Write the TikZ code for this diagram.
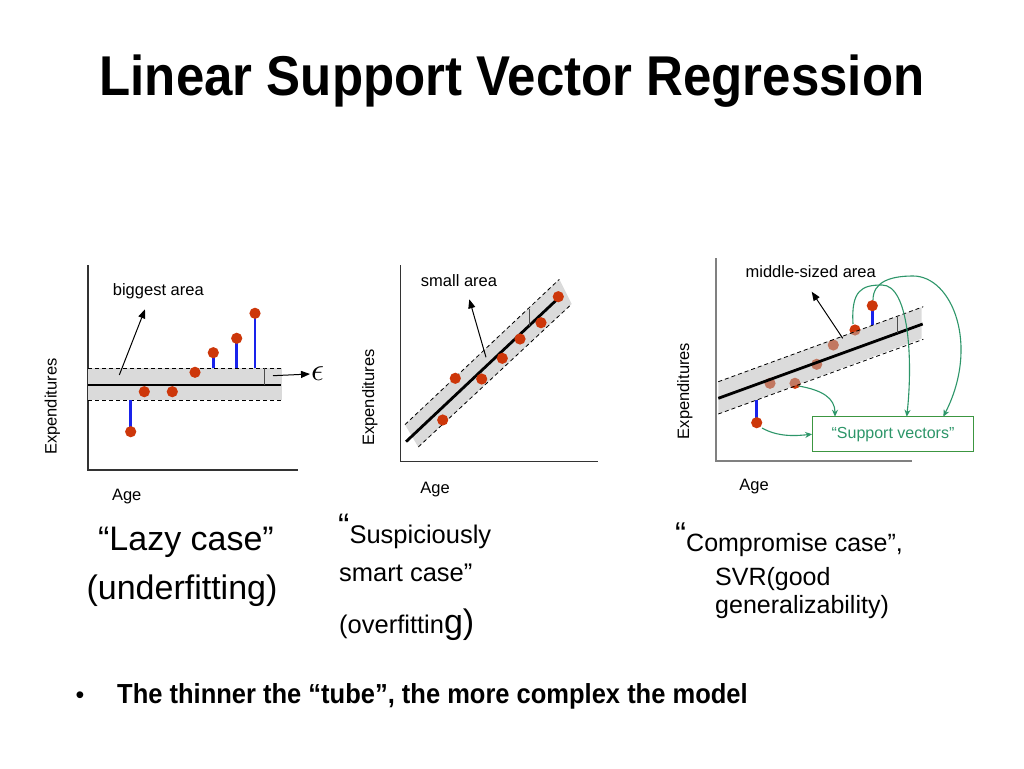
\documentclass[tikz,border=0pt]{standalone}
\usepackage{fontspec}
\setmainfont{Liberation Sans}
\usepackage{graphicx}
\usetikzlibrary{arrows.meta}
\definecolor{dotred}{RGB}{205,55,10}
\definecolor{resblue}{RGB}{25,35,235}
\definecolor{svgreen}{RGB}{45,150,105}
\definecolor{boxgreen}{RGB}{60,150,65}
\definecolor{tubegray}{RGB}{218,218,218}
\definecolor{tubegraydark}{RGB}{185,185,185}
\begin{document}
\begin{tikzpicture}[x=1pt,y=-1pt,
  axisline/.style={line width=1.3pt, draw=black!80},
  fitline/.style={line width=2.8pt, draw=black},
  marginline/.style={line width=0.8pt, draw=black, dash pattern=on 4pt off 3pt},
  resid/.style={line width=2.8pt, draw=resblue},
  dotc/.style={fill=dotred},
  smalltxt/.style={font=\fontsize{16.5}{19}\selectfont},
  ptr/.style={-{Triangle[length=9pt,width=7pt]}, line width=1pt},
  svarrow/.style={draw=svgreen, line width=1.1pt, -{Stealth[length=7pt,width=6pt]}},
  epstick/.style={line width=1pt, draw=black!70},
  bigtxt/.style={font=\fontsize{34}{36}\selectfont},
  midtxt/.style={font=\fontsize{25.5}{28}\selectfont},
  rtxt/.style={font=\fontsize{25}{27}\selectfont}
]
\useasboundingbox[fill=white] (0,0) rectangle (1024,768);

% ---------- title ----------
\node[anchor=base, font=\fontsize{51}{60}\selectfont\bfseries] (title) at (512,95)
  {\scalebox{1}[1.1]{Linear Support Vector Regression}};

% ---------- left panel ----------
\draw[axisline] (88,265) -- (88,470) -- (298,470);
\fill[tubegray] (88,368.3) rectangle (282,400);
\draw[marginline] (88,368.3) -- (282,368.3);
\draw[marginline] (88,400) -- (282,400);
\draw[fitline] (88,385) -- (280.7,385);
\draw[epstick] (264.3,368.3) -- (264.3,385);
\draw[resid] (130.7,400) -- (130.7,431.7);
\draw[resid] (213.3,368.3) -- (213.3,352.7);
\draw[resid] (236.7,368.3) -- (236.7,338.3);
\draw[resid] (255,368.3) -- (255,313.3);
\foreach \p in {(130.7,431.7),(144.3,391.7),(172.3,391.7),(195,372.3),(213.3,352.7),(236.7,338.3),(255,313.3)}
  \fill[dotc] \p circle (5.6pt);
\node[smalltxt, anchor=base] (bigL) at (158.3,295) {biggest area};
\coordinate (bigA) at (119.3,375);
\coordinate (bigB) at (145,309.3);
\draw[ptr] (bigA) -- (bigB);
\coordinate (epsA) at (273,375.7);
\node[inner sep=1pt, anchor=west] (eps) at (310,374) {\scalebox{3.2}{$\epsilon$}};
\draw[ptr] (epsA) -- (eps.west);
\node[smalltxt, anchor=base, rotate=90] (ylabL) at (56.7,406.7) {Expenditures};
\node[smalltxt, anchor=base] (xlabL) at (126.7,500) {Age};

% ---------- middle panel ----------
\draw[axisline] (400.7,265) -- (400.7,461.7) -- (598.3,461.7);
\fill[tubegray] (405,424.6) -- (559.3,279.3) -- (571.7,304) -- (418.3,447) -- cycle;
\draw[marginline] (405,424.6) -- (559.3,279.3);
\draw[marginline] (418.3,447) -- (571.7,304);
\draw[fitline] (406,441.7) -- (559.3,297.3);
\draw[epstick] (529,308.5) -- (529,325.5);
\foreach \p in {(442.7,420),(455.3,378.3),(481.7,379),(502.3,358.3),(520,339),(541,322.7),(558.3,296.7)}
  \fill[dotc] \p circle (5.6pt);
\node[smalltxt, anchor=base] (smallL) at (459,286) {small area};
\coordinate (smA) at (486,357.3);
\coordinate (smB) at (469.3,299.3);
\draw[ptr] (smA) -- (smB);
\node[smalltxt, anchor=base, rotate=90] (ylabM) at (374,397.5) {Expenditures};
\node[smalltxt, anchor=base] (xlabM) at (435,493.3) {Age};

% ---------- right panel ----------
\draw[line width=1.8pt, draw=black!50] (716,258.3) -- (716,460.7) -- (911.7,460.7);
\draw[resid] (756.7,400) -- (756.7,422.7);
\draw[resid] (872.3,325.4) -- (872.3,305.7);
\coordinate (r1) at (756.7,422.7);
\coordinate (r2) at (770,383.3);
\coordinate (r3) at (795,383.3);
\coordinate (r4) at (816.7,364.3);
\coordinate (r5) at (833.3,345);
\coordinate (r6) at (855,330);
\coordinate (r7) at (872.3,305.7);
\foreach \p in {r1,r2,r3,r4,r5,r6,r7}
  \fill[dotc] (\p) circle (5.6pt);
\fill[tubegraydark, opacity=0.5] (718.3,381.7) -- (921.5,307.3) -- (921.5,338.6) -- (718.3,414) -- cycle;
\draw[marginline] (718.3,381.7) -- (923.3,306.7);
\draw[marginline] (718.3,414) -- (923.3,339.3);
\draw[fitline] (718.3,398.3) -- (922.7,324);
\draw[epstick] (897.3,316.4) -- (897.3,333);
\node[smalltxt, anchor=base] (midL) at (810.7,277.3) {middle-sized area};
\coordinate (mdA) at (842.7,338.3);
\coordinate (mdB) at (811.7,291.7);
\draw[ptr] (mdA) -- (mdB);
\node[smalltxt, anchor=base, rotate=90] (ylabR) at (689,391) {Expenditures};
\node[smalltxt, anchor=base] (xlabR) at (754,490) {Age};

\node[draw=boxgreen, line width=1.2pt, minimum width=160.6pt, minimum height=35pt,
      inner sep=0pt, text=svgreen, font=\fontsize{16}{19}\selectfont] (sv) at (893,434.2)
      {“Support vectors”};
\coordinate (s1) at (762,428);
\coordinate (s2) at (798.5,386);
\coordinate (s3) at (853,324);
\coordinate (s4) at (873,300);
\coordinate (t2) at (835,416.7);
\coordinate (t3) at (906.7,416.7);
\coordinate (t4) at (943.3,416.7);
\draw[svarrow] (s1) .. controls (778,437) and (795,436) .. (sv.west);
\draw[svarrow] (s2) .. controls (822,390) and (835,398) .. (t2);
\draw[svarrow] (s3) .. controls (851,290) and (862,285) .. (882,285) .. controls (909,285) and (913,360) .. (t3);
\draw[svarrow] (s4) .. controls (873,282) and (890,276) .. (913,276) .. controls (952,276) and (980,345) .. (t4);

% ---------- captions ----------
\node[bigtxt, anchor=base] (lazy) at (186,550) {“Lazy case”};
\node[bigtxt, anchor=base] (under) at (182,599) {(underfitting)};

\node[midtxt, anchor=base west, inner sep=0pt] (susp) at (338,543)
  {\raisebox{6pt}{\fontsize{34}{36}\selectfont “}Suspiciously};
\node[midtxt, anchor=base west, inner sep=0pt] (smart) at (339,581) {smart case”};
\node[midtxt, anchor=base west, inner sep=0pt] (over) at (339,633) {(overfittin{\fontsize{34}{36}\selectfont g)}};

\node[rtxt, anchor=base west, inner sep=0pt] (comp) at (675,551)
  {\raisebox{6pt}{\fontsize{33}{36}\selectfont “}Compromise case”,};
\node[rtxt, anchor=base west, inner sep=0pt] (svr) at (715,585) {SVR(good};
\node[rtxt, anchor=base west, inner sep=0pt] (gen) at (715,613) {generalizability)};

% ---------- bullet ----------
\node[anchor=base, font=\fontsize{25}{30}\selectfont] (bul) at (80,703) {•};
\node[anchor=base west, inner sep=0pt, font=\fontsize{25.5}{30}\selectfont\bfseries] (note) at (117,703)
  {\scalebox{1}[1.08]{The thinner the “tube”, the more complex the model}};
\end{tikzpicture}
\end{document}
